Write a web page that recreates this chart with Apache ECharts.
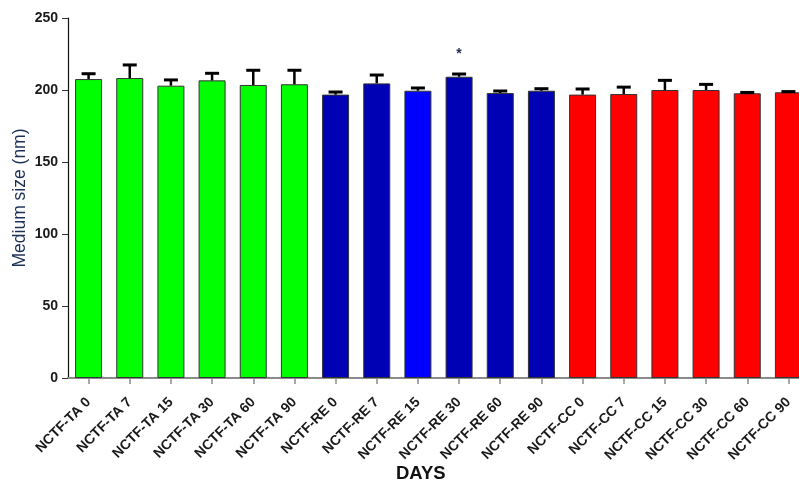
<!DOCTYPE html>
<html>
<head>
<meta charset="utf-8">
<script src="https://cdn.jsdelivr.net/npm/echarts@6/dist/echarts.min.js"></script>
<style>
  html, body { margin: 0; padding: 0; background: #fff; }
  #chart { width: 799px; height: 483px; }
</style>
</head>
<body>
<div id="chart"></div>
<script>
// Formulation / storage day groups
const categories = [
  'NCTF-TA 0', 'NCTF-TA 7', 'NCTF-TA 15', 'NCTF-TA 30', 'NCTF-TA 60', 'NCTF-TA 90',
  'NCTF-RE 0', 'NCTF-RE 7', 'NCTF-RE 15', 'NCTF-RE 30', 'NCTF-RE 60', 'NCTF-RE 90',
  'NCTF-CC 0', 'NCTF-CC 7', 'NCTF-CC 15', 'NCTF-CC 30', 'NCTF-CC 60', 'NCTF-CC 90'
];
// Mean particle size (nm)
const meanSize = [
  207.6, 208.3, 203.0, 206.7, 203.5, 204.0,
  196.8, 204.6, 199.5, 209.2, 197.9, 199.5,
  196.8, 197.2, 200.0, 200.0, 197.7, 198.4
];
// Standard deviation (upper error bar)
const sdSize = [
  3.7, 9.1, 4.0, 4.9, 10.2, 9.7,
  1.8, 5.8, 1.9, 1.9, 1.4, 1.4,
  3.9, 4.8, 6.7, 3.9, 0.6, 0.5
];
// Significance marks
const significance = ['', '', '', '', '', '', '', '', '', '*', '', '', '', '', '', '', '', ''];
const yTicks = [0, 50, 100, 150, 200, 250];

// Bar fill per group
const groupColor = { TA: '#00ff00', RE: '#0000b4', CC: '#ff0000' };
function barColor(name) {
  if (name === 'NCTF-RE 15') return '#0000ff';
  return groupColor[name.split('-')[1].split(' ')[0]];
}

const chart = echarts.init(document.getElementById('chart'));
const font = '"Liberation Sans", Arial, sans-serif';

chart.setOption({
  animation: false,
  // the last category band runs a little past the right edge of the canvas
  grid: { left: 68, top: 18, height: 360, width: 741, containLabel: false, outerBoundsMode: 'none' },
  xAxis: {
    type: 'category',
    data: categories,
    axisLine: { show: true, lineStyle: { color: '#8a8a8a', width: 2 } },
    axisTick: { show: true, alignWithLabel: true, length: 6, lineStyle: { color: '#8a8a8a', width: 1.5 } },
    axisLabel: {
      interval: 0, rotate: 45, margin: 22,
      fontFamily: font, fontWeight: 'bold', fontSize: 14, color: '#1a1a1a'
    }
  },
  yAxis: {
    type: 'value',
    min: yTicks[0], max: yTicks[yTicks.length - 1], interval: 50,
    name: 'Medium size (nm)',
    nameLocation: 'middle',
    nameGap: 39,
    nameMoveOverlap: false,
    nameTextStyle: { fontFamily: font, fontSize: 17.5, color: '#1c2f55' },
    axisLine: { show: true, lineStyle: { color: '#111', width: 1.2 } },
    axisTick: { show: true, length: 6, lineStyle: { color: '#333', width: 1 } },
    splitLine: { show: false },
    axisLabel: { fontFamily: font, fontWeight: 'bold', fontSize: 14, color: '#1a1a1a', margin: 10 }
  },
  graphic: [{
    type: 'text',
    left: 396, top: 464,
    style: { text: 'DAYS', font: 'bold 18.5px ' + font, fill: '#111' }
  }],
  series: [
    {
      type: 'bar',
      barWidth: 27,
      data: meanSize.map((v, i) => ({
        value: v,
        itemStyle: { color: barColor(categories[i]), borderColor: '#333', borderWidth: 1 }
      })),
      z: 2
    },
    {
      type: 'custom',
      z: 3,
      data: meanSize.map((v, i) => [i, v, v + sdSize[i]]),
      renderItem: function (params, api) {
        const i = api.value(0);
        const base = api.coord([i, api.value(1)]);
        const top = api.coord([i, api.value(2)]);
        const half = 7;
        const children = [
          { type: 'line', shape: { x1: base[0], y1: base[1], x2: top[0], y2: top[1] },
            style: { stroke: '#000', lineWidth: 2.5 } },
          { type: 'line', shape: { x1: top[0] - half, y1: top[1], x2: top[0] + half, y2: top[1] },
            style: { stroke: '#000', lineWidth: 3 } }
        ];
        if (significance[i]) {
          children.push({
            type: 'text',
            style: { text: significance[i], x: top[0], y: top[1] - 20, align: 'center', verticalAlign: 'middle',
              font: 'bold 14px ' + font, fill: '#1a2a4a' }
          });
        }
        return { type: 'group', children: children };
      }
    }
  ]
});
</script>
</body>
</html>
